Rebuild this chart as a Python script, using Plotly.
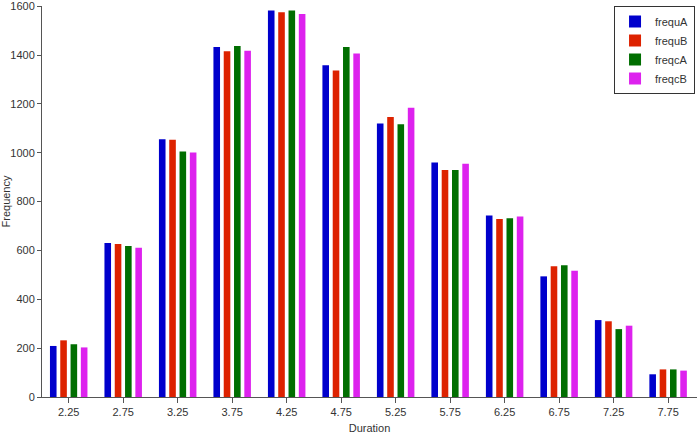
import plotly.graph_objects as go

durations = ["2.25", "2.75", "3.25", "3.75", "4.25", "4.75", "5.25", "5.75", "6.25", "6.75", "7.25", "7.75"]
frequA = [209, 631, 1055, 1433, 1583, 1358, 1120, 960, 743, 494, 315, 93]
frequB = [232, 626, 1053, 1416, 1575, 1337, 1146, 929, 729, 535, 310, 113]
freqcA = [216, 618, 1005, 1437, 1583, 1433, 1117, 929, 732, 539, 278, 113]
freqcB = [203, 611, 1001, 1418, 1568, 1406, 1184, 955, 739, 517, 292, 108]
ytick_vals = [0, 200, 400, 600, 800, 1000, 1200, 1400, 1600]

series = [
    ("frequA", frequA, "#0000cc"),
    ("frequB", frequB, "#dd2200"),
    ("freqcA", freqcA, "#006e00"),
    ("freqcB", freqcB, "#dd22ee"),
]

fig = go.Figure()
for name, vals, col in series:
    fig.add_trace(go.Bar(x=durations, y=vals, name=name, marker=dict(color=col, line=dict(width=0))))

font = dict(family="Liberation Sans, Arial, sans-serif", size=11, color="#333333")

fig.update_layout(
    width=700, height=434,
    margin=dict(l=42, r=3, t=6, b=37, autoexpand=False),
    paper_bgcolor="white", plot_bgcolor="white",
    font=font,
    barmode="group",
    bargap=0.244,
    bargroupgap=0.36,
    showlegend=True,
    legend=dict(
        x=0.997, y=1.0, xanchor="right", yanchor="top",
        bgcolor="white", bordercolor="#333333", borderwidth=1,
        font=dict(family="Liberation Sans, Arial, sans-serif", size=11, color="#333333"),
        itemwidth=30,
        tracegroupgap=0,
    ),
    xaxis=dict(
        type="category",
        range=[-0.49, 11.53],
        automargin=False,
        showgrid=False, zeroline=False,
        showline=True, linecolor="#555555", linewidth=1,
        ticks="outside", ticklen=5, tickcolor="#555555",
        title=dict(text="Duration", font=font, standoff=7),
        fixedrange=True,
    ),
    yaxis=dict(
        range=[0, 1601],
        tickvals=ytick_vals,
        automargin=False,
        showgrid=False, zeroline=False,
        showline=True, linecolor="#555555", linewidth=1,
        ticks="outside", ticklen=4, tickcolor="#555555",
        title=dict(text="Frequency", font=font, standoff=4),
        fixedrange=True,
    ),
)

fig.write_html(
    "out.html",
    config={"displayModeBar": False},
    post_script="document.body.style.margin='0';document.body.style.overflow='hidden';",
)
